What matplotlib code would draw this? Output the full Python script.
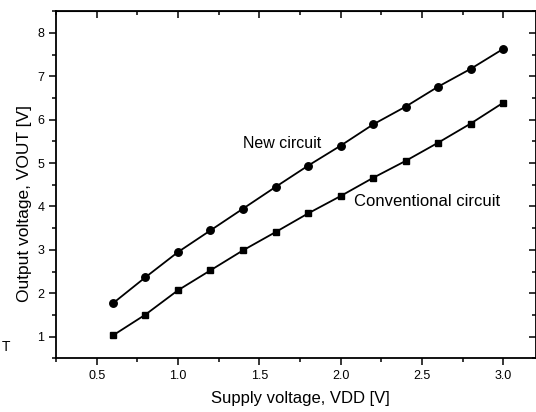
import matplotlib
matplotlib.use("Agg")
import matplotlib.pyplot as plt
from matplotlib.ticker import MultipleLocator

plt.rcParams['font.family'] = ['Liberation Sans', 'DejaVu Sans']

# supply voltage sweep
vdd = [0.6, 0.8, 1.0, 1.2, 1.4, 1.6, 1.8, 2.0, 2.2, 2.4, 2.6, 2.8, 3.0]
# output voltage
vout_new = [1.77, 2.37, 2.95, 3.45, 3.95, 4.45, 4.94, 5.40, 5.89, 6.30, 6.76, 7.17, 7.63]
vout_conv = [1.03, 1.51, 2.07, 2.53, 2.99, 3.41, 3.84, 4.24, 4.66, 5.05, 5.47, 5.91, 6.39]

fig = plt.figure(figsize=(5.36, 4.12), dpi=100)
ax = fig.add_axes([0.1045, 0.13, 0.895, 0.843])

ax.plot(vdd, vout_new, color='black', lw=1.3, marker='o', ms=5.4)
ax.plot(vdd, vout_conv, color='black', lw=1.3, marker='s', ms=4.8)

ax.text(1.40, 5.45, "New circuit", fontsize=11.5, va='center', ha='left')
ax.text(2.08, 4.12, "Conventional circuit", fontsize=12, va='center', ha='left')

ax.set_xlim(0.25, 3.2)
ax.set_ylim(0.5, 8.5)
ax.xaxis.set_minor_locator(MultipleLocator(0.25))
ax.yaxis.set_minor_locator(MultipleLocator(0.5))
ax.set_xticks([0.5, 1.0, 1.5, 2.0, 2.5, 3.0])
ax.set_yticks([1, 2, 3, 4, 5, 6, 7, 8])

ax.tick_params(axis='both', which='both', direction='out', labelsize=9, width=1.1)
ax.tick_params(which='major', length=5)
ax.tick_params(which='minor', length=3)
# mirrored ticks on top/right point inward
secx = ax.secondary_xaxis('top')
secx.set_xticks([0.5, 1.0, 1.5, 2.0, 2.5, 3.0])
secx.xaxis.set_minor_locator(MultipleLocator(0.25))
secx.tick_params(which='both', direction='in', labeltop=False, width=1.1)
secx.tick_params(which='major', length=5)
secx.tick_params(which='minor', length=3)
secy = ax.secondary_yaxis('right')
secy.set_yticks([1, 2, 3, 4, 5, 6, 7, 8])
secy.yaxis.set_minor_locator(MultipleLocator(0.5))
secy.tick_params(which='both', direction='in', labelright=False, width=1.1)
secy.tick_params(which='major', length=5)
secy.tick_params(which='minor', length=3)

for s in ax.spines.values():
    s.set_linewidth(1.3)

ax.set_xlabel("Supply voltage, VDD [V]", fontsize=12)
ax.set_ylabel("Output voltage, VOUT [V]", fontsize=12.5)
ax.xaxis.set_label_coords(0.51, -0.095)
ax.yaxis.set_label_coords(-0.05, 0.445)

# stray scan mark at left edge
fig.text(0.003, 0.158, "T", fontsize=10, ha='left', va='center')

fig.savefig("out.png", dpi=100)
